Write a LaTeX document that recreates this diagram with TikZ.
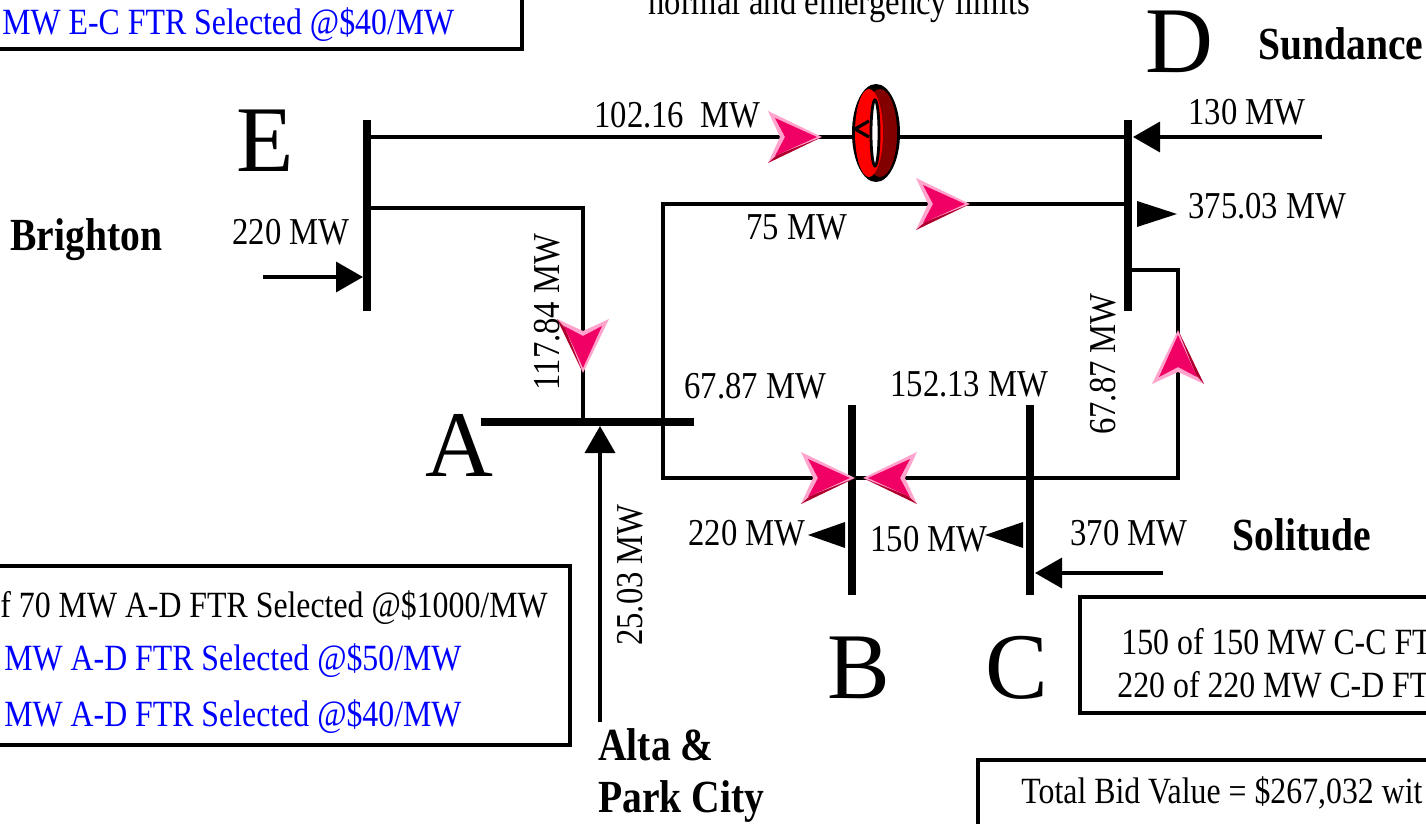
\documentclass[tikz,border=0pt]{standalone}
\usepackage{fontspec}
\setmainfont{Liberation Serif}[FakeStretch=0.86]
\newfontfamily\busfont{Liberation Serif}
\usetikzlibrary{arrows.meta}

\definecolor{flowpink}{RGB}{240,0,100}
\definecolor{flowlight}{RGB}{255,165,205}
\definecolor{flowdark}{RGB}{175,0,45}
\definecolor{ringdark}{RGB}{130,0,0}
\definecolor{ftrblue}{RGB}{0,0,255}

\tikzset{
  bus/.style={line width=3.8pt},
  tie/.style={line width=1.8pt},
  inject/.style={line width=1.8pt, -{Triangle[length=13.5pt, width=15pt]}},
  mw/.style={font=\fontsize{19}{21}\selectfont, inner sep=0pt, anchor=base west},
  mwv/.style={font=\fontsize{19}{21}\selectfont, inner sep=0pt, rotate=90},
  busname/.style={font=\busfont\fontsize{47}{50}\selectfont, inner sep=0pt, anchor=base west},
  town/.style={font=\fontsize{23}{25}\selectfont\bfseries, inner sep=0pt, anchor=base west},
  ftrbox/.style={line width=2pt},
  ftr/.style={font=\fontsize{18.5}{20}\selectfont, inner sep=0pt, anchor=base west},
  flowhead/.pic={
    \fill[flowlight] (0,0) -- (-54,-26) -- (-42,0) -- (-54,26) -- cycle;
    \fill[flowdark] (0,0) -- (-54,26) -- (-45,18) -- cycle;
    \fill[flowpink] (-5,0) -- (-47,-19) -- (-37,0) -- (-47,19) -- cycle;
  }
}

\begin{document}
\begin{tikzpicture}[x=0.5pt, y=-0.5pt]
    \useasboundingbox (0,0) rectangle (1426,824);
    \clip (0,0) rectangle (1426,824);

    % Barras
    \foreach \bus/\xa/\ya/\xb/\yb in {E/367/120/367/311, D/1128/120/1128/311, A/481/422/694/422, B/852/405/852/595, C/1030/405/1030/595} {
        \coordinate (\bus-1) at (\xa,\ya);
        \coordinate (\bus-2) at (\xb,\yb);
        \draw[bus] (\bus-1) -- (\bus-2);
    }

    % Nombres de barras
    \node[busname] (nameE) at (236,172) {E};
    \node[busname] (nameD) at (1145,73) {D};
    \node[busname] (nameA) at (425,476) {A};
    \node[busname] (nameB) at (827,698) {B};
    \node[busname] (nameC) at (985,698) {C};

    % Lineas
    \coordinate (eTop) at (367,137);  \coordinate (dTop) at (1128,137);
    \coordinate (eMid) at (367,208);  \coordinate (aLeft) at (583,422);
    \coordinate (aRight) at (663,422); \coordinate (dMid) at (1128,204);
    \coordinate (bLine) at (852,478);  \coordinate (cLine) at (1030,478);
    \coordinate (dLow) at (1128,270);  \coordinate (bend) at (1178,478);

    \draw[tie] (eTop) -- (dTop);
    \draw[tie] (eMid) -| (aLeft);
    \draw[tie] (aRight) |- (dMid);
    \draw[tie] (aRight) |- (bLine);
    \draw[tie] (cLine) -- (bLine);
    \draw[tie] (dLow) -| (bend) -- (cLine);

    % Desfasador en la linea E-D
    \fill[black] (876,133) ellipse [x radius=24, y radius=49];
    \fill[ringdark] (880,133) ellipse [x radius=17, y radius=44];
    \fill[red] (869,133) ellipse [x radius=14, y radius=44];
    \filldraw[fill=white, draw=black, line width=1.4pt] (875,133) ellipse [x radius=4, y radius=33];
    \draw[line width=1.6pt, line join=round] (869,121) -- (855,129) -- (869,137);

    % Inyecciones
    \coordinate (eIn) at (263,277);  \coordinate (eInEnd) at (363,277);
    \coordinate (dIn) at (1322,137); \coordinate (dInEnd) at (1133,137);
    \coordinate (cIn) at (1163,573); \coordinate (cInEnd) at (1035,573);
    \coordinate (aIn) at (600,722);  \coordinate (aInEnd) at (600,426);
    \draw[inject] (eIn) -- (eInEnd);
    \draw[inject] (dIn) -- (dInEnd);
    \draw[inject] (cIn) -- (cInEnd);
    \draw[inject] (aIn) -- (aInEnd);

    % Retiros
    \foreach \tx/\ty/\dx in {1177/214/-40, 808/535/37, 985/535/38} {
        \fill (\tx,\ty) -- ++(\dx,-13) -- ++(0,26) -- cycle;
    }

    % Sentido de los flujos
    \pic at (822,137) {flowhead};
    \pic at (970,204) {flowhead};
    \pic[rotate=-90] at (583,373) {flowhead};
    \pic at (855,478) {flowhead};
    \pic[xscale=-1] at (863,478) {flowhead};
    \pic[rotate=90] at (1178,330) {flowhead};

    % Flujos y cargas
    \foreach \x/\y/\txt [count=\i] in {594/128/102.16~~MW, 1188/125/130 MW, 1188/219/375.03 MW, 746/240/75 MW, 232/244/220 MW, 684/398/67.87 MW, 890/396/152.13 MW, 688/545/220 MW, 870/551/150 MW, 1070/545/370 MW} {
        \node[mw] (flow\i) at (\x,\y) {\txt};
    }
    \node[mwv] (flowEA) at (547,312) {117.84 MW};
    \node[mwv] (flowDC) at (1103,364) {67.87 MW};
    \node[mwv] (flowA) at (630,575) {25.03 MW};

    % Zonas
    \node[town] (sundance) at (1258,60) {Sundance};
    \node[town] (brighton) at (10,250) {Brighton};
    \node[town] (solitude) at (1232,550) {Solitude};
    \node[town] (alta) at (598,760) {Alta \&};
    \node[town] (parkcity) at (598,812) {Park City};

    % Cuadros de FTR
    \node[mw] (limits) at (648,15) {normal and emergency limits};

    \draw[ftrbox] (-10,-10) rectangle (522,49);
    \node[ftr, text=ftrblue] (ftrEC) at (2,35) {MW E-C FTR Selected @\$40/MW};

    \draw[ftrbox] (-10,566) rectangle (570,745);
    \node[ftr] (ftrAD1) at (0,617) {f 70 MW A-D FTR Selected @\$1000/MW};
    \node[ftr, text=ftrblue] (ftrAD2) at (4,670) {MW A-D FTR Selected @\$50/MW};
    \node[ftr, text=ftrblue] (ftrAD3) at (4,726) {MW A-D FTR Selected @\$40/MW};

    \draw[ftrbox] (1080,597) rectangle (1440,713);
    \node[ftr] (ftrCC) at (1121,654) {150 of 150 MW C-C FTR};
    \node[ftr] (ftrCD) at (1117,697) {220 of 220 MW C-D FTR};

    \draw[ftrbox] (978,760) rectangle (1440,840);
    \node[ftr] (total) at (1021,803) {Total Bid Value = \$267,032 wit};
\end{tikzpicture}
\end{document}
